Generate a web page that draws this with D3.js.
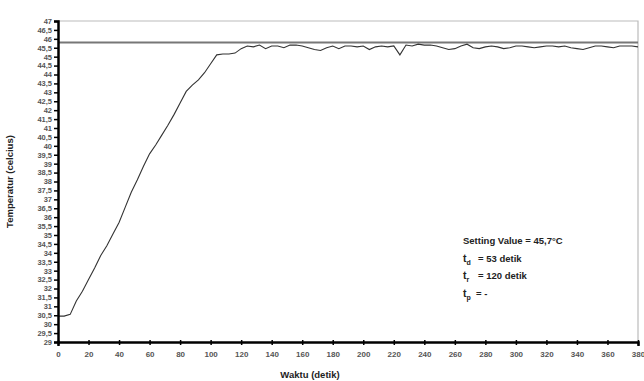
<!DOCTYPE html>
<html>
<head>
<meta charset="utf-8">
<script src="https://cdn.jsdelivr.net/npm/d3@7"></script>
<style>
  body { margin: 0; background: #fff; }
  svg { font-family: "Liberation Sans", Arial, sans-serif; }
</style>
</head>
<body>
<div id="chart"></div>
<script>
// time (detik) every 4 s
const waktu = [
  0, 4, 8, 12, 16, 20, 24, 28, 32, 36, 40, 44, 48, 52, 56, 60, 64, 68, 72, 76,
  80, 84, 88, 92, 96, 100, 104, 108, 112, 116, 120, 124, 128, 132, 136, 140, 144, 148, 152, 156,
  160, 164, 168, 172, 176, 180, 184, 188, 192, 196, 200, 204, 208, 212, 216, 220, 224, 228, 232, 236,
  240, 244, 248, 252, 256, 260, 264, 268, 272, 276, 280, 284, 288, 292, 296, 300, 304, 308, 312, 316,
  320, 324, 328, 332, 336, 340, 344, 348, 352, 356, 360, 364, 368, 372, 376, 380
];
const temperatur = [
  30.45, 30.45, 30.55, 31.3, 31.85, 32.5, 33.15, 33.85, 34.4, 35.05, 35.7, 36.55, 37.4, 38.1, 38.85, 39.55, 40.05, 40.6, 41.15, 41.75,
  42.4, 43.05, 43.4, 43.7, 44.1, 44.6, 45.1, 45.15, 45.15, 45.2, 45.45, 45.6, 45.55, 45.65, 45.45, 45.6, 45.6, 45.5, 45.65, 45.65,
  45.6, 45.5, 45.4, 45.35, 45.5, 45.6, 45.45, 45.6, 45.6, 45.55, 45.6, 45.4, 45.55, 45.6, 45.55, 45.6, 45.1, 45.65, 45.6, 45.7,
  45.65, 45.65, 45.6, 45.5, 45.4, 45.45, 45.6, 45.7, 45.5, 45.45, 45.55, 45.6, 45.55, 45.45, 45.5, 45.6, 45.6, 45.55, 45.5, 45.55,
  45.6, 45.6, 45.55, 45.6, 45.5, 45.45, 45.4, 45.5, 45.6, 45.6, 45.55, 45.5, 45.6, 45.6, 45.6, 45.55
];
const setpointLine = 45.8;
const xTicks = [0, 20, 40, 60, 80, 100, 120, 140, 160, 180, 200, 220, 240, 260, 280, 300, 320, 340, 360, 380];
const yTicks = [29, 29.5, 30, 30.5, 31, 31.5, 32, 32.5, 33, 33.5, 34, 34.5, 35, 35.5, 36, 36.5, 37, 37.5,
  38, 38.5, 39, 39.5, 40, 40.5, 41, 41.5, 42, 42.5, 43, 43.5, 44, 44.5, 45, 45.5, 46, 46.5, 47];
const notes = [
  { main: 'Setting Value = 45,7°C', sub: '', rest: '' },
  { main: 't', sub: 'd', rest: '= 53 detik' },
  { main: 't', sub: 'r', rest: '= 120 detik' },
  { main: 't', sub: 'p', rest: '= -' }
];

const width = 644, height = 381;
const margin = { top: 21, right: 6, bottom: 39, left: 58 };
const innerW = width - margin.left - margin.right;
const innerH = height - margin.top - margin.bottom;

const svg = d3.select('#chart').append('svg')
  .attr('width', width)
  .attr('height', height);

const g = svg.append('g').attr('transform', `translate(${margin.left},${margin.top})`);

const x = d3.scaleLinear().domain([0, 380]).range([0, innerW]);
const y = d3.scaleLinear().domain([29, 47]).range([innerH, 0]);

// plot frame (top + right)
g.append('path')
  .attr('d', `M0,0H${innerW}V${innerH}`)
  .attr('fill', 'none')
  .attr('stroke', '#bbb')
  .attr('stroke-width', 1.2);

// setpoint line
g.append('line')
  .attr('x1', 0).attr('x2', innerW)
  .attr('y1', y(setpointLine)).attr('y2', y(setpointLine))
  .attr('stroke', '#777')
  .attr('stroke-width', 2);

// data line
const line = d3.line()
  .x((d, i) => x(waktu[i]))
  .y(d => y(d));

g.append('path')
  .datum(temperatur)
  .attr('fill', 'none')
  .attr('stroke', '#333')
  .attr('stroke-width', 1.1)
  .attr('d', line);

// axes
const fmt = d => String(d).replace('.', ',');

const yAxis = g.append('g')
  .call(d3.axisLeft(y).tickValues(yTicks).tickFormat(fmt).tickSize(4).tickPadding(2));
yAxis.select('.domain').attr('stroke', '#000').attr('stroke-width', 2.5);
yAxis.selectAll('.tick line').attr('stroke', '#000').attr('stroke-width', 1.5).attr('x2', -4).attr('x1', 1);
yAxis.selectAll('.tick text')
  .attr('font-size', 7.5)
  .attr('font-weight', 'bold')
  .attr('fill', '#555');

const xAxis = g.append('g')
  .attr('transform', `translate(0,${innerH})`)
  .call(d3.axisBottom(x).tickValues(xTicks).tickSize(4).tickPadding(5));
xAxis.select('.domain').attr('stroke', '#000').attr('stroke-width', 2.5);
xAxis.selectAll('.tick line').attr('stroke', '#000').attr('stroke-width', 1.5).attr('y1', -2).attr('y2', 3);
xAxis.selectAll('.tick text')
  .attr('font-size', 8)
  .attr('font-weight', 'bold')
  .attr('fill', '#555');

// axis titles
svg.append('text')
  .attr('transform', `translate(13,${margin.top + innerH / 2}) rotate(-90)`)
  .attr('text-anchor', 'middle')
  .attr('font-size', 9.5)
  .attr('font-weight', 'bold')
  .attr('fill', '#222')
  .text('Temperatur (celcius)');

svg.append('text')
  .attr('x', 310)
  .attr('y', 378)
  .attr('text-anchor', 'middle')
  .attr('font-size', 9.5)
  .attr('font-weight', 'bold')
  .attr('fill', '#222')
  .text('Waktu (detik)');

// annotation block
const ann = svg.append('g').attr('transform', 'translate(463,244)');
notes.forEach((n, i) => {
  const t = ann.append('text')
    .attr('x', 0)
    .attr('y', i * 17.5)
    .attr('font-size', i === 0 ? 9.5 : 10.5)
    .attr('font-weight', 'bold')
    .attr('fill', '#222');
  t.append('tspan').text(n.main);
  if (n.sub) {
    t.append('tspan').attr('dy', 3).attr('font-size', 7).text(n.sub);
    ann.append('text')
      .attr('x', i === 3 ? 13 : 15)
      .attr('y', i * 17.5)
      .attr('font-size', 9.5)
      .attr('font-weight', 'bold')
      .attr('fill', '#222')
      .text(n.rest);
  }
});
</script>
</body>
</html>
